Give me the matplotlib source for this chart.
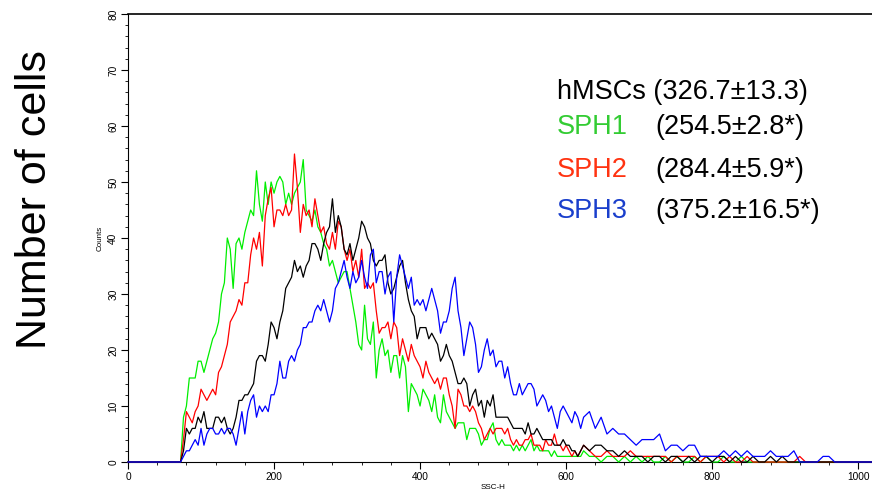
import matplotlib
matplotlib.use("Agg")
import matplotlib.pyplot as plt
from matplotlib.ticker import MultipleLocator
import numpy as np

plt.rcParams['font.family'] = ['Liberation Sans', 'DejaVu Sans']

# canais do SSC-H: parte principal lida de 4 em 4 canais (72..620),
# cauda lida de 8 em 8 canais (624..968)
inicio_pico, passo_pico = 72, 4
inicio_cauda, passo_cauda = 624, 8

hmscs_pico = [0, 2, 6, 5, 6, 6, 8, 7, 9, 6,
              6, 6, 8, 8, 7, 8, 6, 5, 6, 8,
              11, 11, 12, 12, 13, 14, 18, 19, 19, 18,
              21, 25, 24, 22, 25, 27, 31, 32, 33, 36,
              34, 35, 33, 35, 36, 39, 39, 38, 36, 39,
              41, 42, 47, 41, 44, 42, 38, 37, 39, 36,
              38, 40, 43, 42, 40, 39, 36, 35, 36, 36,
              37, 32, 30, 31, 33, 35, 36, 32, 29, 27,
              26, 22, 24, 24, 24, 22, 23, 22, 21, 18,
              19, 21, 19, 18, 16, 14, 14, 15, 14, 10,
              12, 13, 10, 11, 8, 11, 10, 12, 8, 8,
              8, 8, 8, 7, 6, 6, 6, 6, 5, 7,
              5, 5, 6, 5, 4, 4, 4, 4, 3, 3,
              3, 4, 3, 3, 2, 2, 1, 2]
sph1_pico = [0, 8, 10, 15, 15, 15, 18, 18, 16, 18,
             20, 22, 23, 25, 30, 32, 40, 38, 31, 39,
             40, 38, 41, 43, 45, 44, 52, 46, 43, 50,
             46, 50, 48, 50, 51, 50, 46, 48, 46, 48,
             49, 50, 54, 45, 44, 43, 45, 42, 41, 39,
             38, 35, 36, 34, 32, 33, 34, 34, 31, 28,
             25, 21, 20, 28, 22, 21, 25, 15, 20, 22,
             19, 20, 16, 19, 19, 15, 19, 17, 9, 14,
             13, 12, 10, 13, 12, 11, 9, 12, 8, 7,
             12, 9, 8, 7, 6, 7, 7, 7, 4, 6,
             6, 6, 5, 3, 4, 4, 6, 7, 4, 3,
             4, 3, 3, 3, 2, 3, 2, 3, 2, 3,
             4, 2, 3, 2, 2, 2, 2, 1, 2, 1,
             1, 1, 1, 1, 1, 1, 1, 1]
sph2_pico = [0, 4, 9, 8, 7, 9, 10, 13, 12, 11,
             12, 13, 12, 16, 17, 19, 21, 25, 26, 27,
             29, 28, 32, 32, 37, 40, 38, 41, 35, 44,
             47, 49, 42, 45, 45, 44, 46, 44, 45, 55,
             49, 41, 46, 44, 45, 42, 47, 44, 41, 42,
             39, 38, 41, 38, 43, 42, 38, 36, 38, 34,
             36, 33, 38, 31, 32, 31, 32, 27, 23, 24,
             24, 25, 22, 25, 24, 19, 22, 20, 18, 21,
             19, 18, 17, 15, 18, 16, 15, 14, 15, 13,
             15, 15, 12, 10, 6, 13, 12, 10, 10, 9,
             10, 9, 7, 6, 4, 5, 6, 5, 6, 6,
             6, 5, 6, 4, 3, 4, 3, 3, 4, 4,
             5, 3, 3, 3, 2, 4, 3, 3, 5, 3,
             3, 2, 3, 2, 1, 2, 1, 2]
sph3_pico = [0, 1, 2, 2, 3, 4, 3, 6, 3, 5,
             6, 6, 5, 5, 6, 5, 6, 6, 5, 3,
             6, 9, 5, 9, 11, 12, 8, 10, 9, 10,
             9, 12, 12, 14, 18, 15, 15, 18, 19, 18,
             20, 21, 24, 24, 25, 25, 27, 28, 27, 29,
             27, 25, 27, 31, 32, 34, 36, 33, 31, 34,
             32, 33, 36, 33, 31, 37, 38, 32, 34, 34,
             30, 33, 34, 25, 33, 37, 35, 33, 31, 33,
             28, 29, 28, 29, 27, 29, 31, 29, 27, 23,
             25, 25, 27, 31, 33, 27, 24, 19, 22, 25,
             24, 21, 16, 17, 20, 22, 19, 20, 17, 18,
             18, 15, 17, 14, 12, 12, 14, 12, 13, 14,
             14, 13, 10, 11, 12, 11, 9, 10, 8, 6,
             9, 10, 9, 8, 7, 9, 8, 6]

hmscs_cauda = [3, 2, 3, 3, 2, 2, 1, 2, 1, 1, 1,
               0, 1, 1, 0, 1, 1, 0, 1, 0, 1, 1, 0, 1, 1, 0, 1,
               0, 0, 1, 0, 0, 1, 0, 1, 0, 0, 0, 0, 0, 0, 0, 0, 0]
sph1_cauda = [2, 1, 1, 0, 1, 1, 0, 1, 0, 1, 0,
              1, 0, 0, 1, 0, 1, 0, 0, 1, 0, 1, 0, 0, 1, 0, 0,
              1, 0, 0, 0, 0, 0, 0, 0, 0, 0, 0, 0, 0, 0, 0, 0, 0]
sph2_cauda = [3, 2, 1, 1, 2, 1, 1, 1, 2, 1, 1,
              1, 1, 1, 1, 0, 1, 1, 1, 1, 0, 1, 1, 1, 0, 1, 0,
              0, 1, 0, 0, 0, 0, 0, 0, 0, 0, 1, 0, 0, 0, 0, 0, 0]
sph3_cauda = [8, 9, 6, 8, 5, 6, 5, 5, 4, 3, 4,
              4, 4, 5, 2, 3, 3, 2, 3, 3, 1, 1, 1, 1, 2, 1, 2,
              1, 2, 1, 1, 1, 2, 1, 1, 1, 2, 0, 0, 0, 0, 1, 1, 0]

rotulos = ['hMSCs', 'SPH1', 'SPH2', 'SPH3']
medias = ['(326.7±13.3)', '(254.5±2.8*)', '(284.4±5.9*)', '(375.2±16.5*)']
cores_linha = ['#00ee00', '#ff0000', '#000000', '#0000ff']
cores_texto = ['#000000', '#33cc33', '#ff3311', '#1a3fcc']


def montar_serie(pico, cauda):
    # o histograma vai de 0 a 1023; fora dos valores lidos fica em zero
    x_pico = inicio_pico + passo_pico * np.arange(len(pico))
    x_cauda = inicio_cauda + passo_cauda * np.arange(len(cauda))
    x = np.concatenate([[0], x_pico, x_cauda, [1023]])
    y = np.concatenate([[0], pico, cauda, [0]])
    return x, y


fig = plt.figure(figsize=(8.72, 5), dpi=100)
ax = fig.add_axes([0.1468, 0.076, 0.8532, 0.896])

series = [(sph1_pico, sph1_cauda), (sph2_pico, sph2_cauda),
          (hmscs_pico, hmscs_cauda), (sph3_pico, sph3_cauda)]
for (pico, cauda), cor in zip(series, cores_linha):
    x, y = montar_serie(pico, cauda)
    ax.plot(x, y, color=cor, lw=0.9, clip_on=False, zorder=3)

ax.set_xlim(0, 1019)
ax.set_ylim(0, 80)
ax.xaxis.set_major_locator(MultipleLocator(200))
ax.xaxis.set_minor_locator(MultipleLocator(40))
ax.yaxis.set_major_locator(MultipleLocator(10))
ax.yaxis.set_minor_locator(MultipleLocator(2))
ax.tick_params(which='major', direction='out', length=5, width=0.8, labelsize=7.3, pad=2)
ax.tick_params(which='minor', direction='out', length=2.5, width=0.6)
ax.set_xticks([0, 200, 400, 600, 800, 1000])
for rot in ax.get_yticklabels():
    rot.set_rotation(90)
    rot.set_va('center')
ax.spines['right'].set_visible(False)
ax.spines['top'].set_linewidth(1.2)

ax.set_ylabel('Counts', fontsize=5.8, labelpad=3)
ax.set_xlabel('SSC-H', fontsize=5.8, labelpad=3)
ax.xaxis.set_label_coords(0.49, -0.05)

fig.text(0.04, 0.6, 'Number of cells', rotation=90, fontsize=31,
         ha='center', va='center')

# legenda escrita a mao, como na figura original
linhas_y = [0.816, 0.746, 0.660, 0.578]
for rotulo, media, cor, yy in zip(rotulos, medias, cores_texto, linhas_y):
    if rotulo == 'hMSCs':
        fig.text(0.639, yy, rotulo + ' ' + media, fontsize=19.5, color=cor, va='center')
    else:
        fig.text(0.639, yy, rotulo, fontsize=19.5, color=cor, va='center')
        fig.text(0.752, yy, media, fontsize=19.5, color='black', va='center')

fig.savefig('out.png', dpi=100)
